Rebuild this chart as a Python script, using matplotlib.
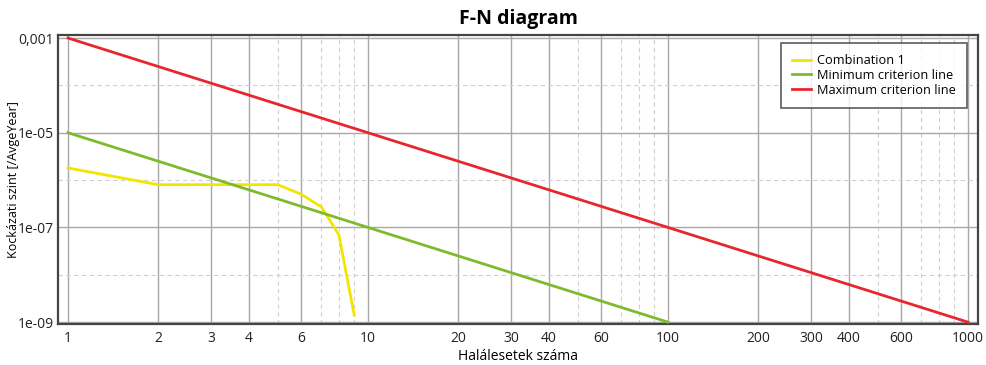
import matplotlib
matplotlib.use("Agg")
import matplotlib.pyplot as plt
from matplotlib.ticker import FixedLocator, FixedFormatter, NullFormatter

plt.rcParams['font.family'] = ['Open Sans', 'DejaVu Sans']

combo_x = [1, 2, 3, 4, 5, 6, 7, 8, 9]
combo_y = [1.8e-6, 8e-7, 8e-7, 8e-7, 8e-7, 5e-7, 2.7e-7, 7e-8, 1.4e-9]
min_x = [1, 100]
min_y = [1e-5, 1e-9]
max_x = [1, 1000]
max_y = [1e-3, 1e-9]

x_major = [1, 2, 3, 4, 6, 10, 20, 30, 40, 60, 100, 200, 300, 400, 600, 1000]
x_labels = ["1", "2", "3", "4", "6", "10", "20", "30", "40", "60", "100", "200", "300", "400", "600", "1000"]
x_minor = [5, 7, 8, 9, 50, 70, 80, 90, 500, 700, 800, 900]
y_major = [1e-9, 1e-7, 1e-5, 1e-3]
y_labels = ["1e-09", "1e-07", "1e-05", "0,001"]
y_minor = [1e-8, 1e-6, 1e-4]

fig = plt.figure(figsize=(9.86, 3.65), dpi=100)
ax = fig.add_axes([0.0588, 0.112, 0.933, 0.792])

ax.plot(combo_x, combo_y, color='#f2e600', lw=2, label='Combination 1', zorder=3)
ax.plot(min_x, min_y, color='#7fba2e', lw=2, label='Minimum criterion line', zorder=3)
ax.plot(max_x, max_y, color='#e8262e', lw=2, label='Maximum criterion line', zorder=3)

ax.set_xscale('log')
ax.set_yscale('log')
ax.set_xlim(1 * 10 ** (-10 / 300), 1000 * 10 ** (10 / 300))
ax.set_ylim(1e-9 * 10 ** (-2 / 47.5), 1e-3 * 10 ** (3 / 47.5))

ax.xaxis.set_major_locator(FixedLocator(x_major))
ax.xaxis.set_major_formatter(FixedFormatter(x_labels))
ax.xaxis.set_minor_locator(FixedLocator(x_minor))
ax.xaxis.set_minor_formatter(NullFormatter())
ax.yaxis.set_major_locator(FixedLocator(y_major))
ax.yaxis.set_major_formatter(FixedFormatter(y_labels))
ax.yaxis.set_minor_locator(FixedLocator(y_minor))
ax.yaxis.set_minor_formatter(NullFormatter())

ax.grid(True, which='major', color='#a8a8a8', lw=1, ls='-')
ax.grid(True, which='minor', color='#d0d0d0', lw=0.8, ls=(0, (4, 3)))
ax.tick_params(which='both', length=0, labelsize=10, colors='#222222')
ax.tick_params(axis='x', pad=5)
ax.tick_params(axis='y', pad=3)
for s in ax.spines.values():
    s.set_color('#444444')
    s.set_linewidth(1.6)

ax.set_title('F-N diagram', fontsize=14, fontweight='bold', pad=8)
ax.set_xlabel('Halálesetek száma', fontsize=10, labelpad=2)
ax.set_ylabel('Kockázati szint [/AvgeYear]', fontsize=9)
ax.yaxis.set_label_coords(-0.0415, 0.5)

leg = ax.legend(loc='upper right', bbox_to_anchor=(0.988, 0.972), borderaxespad=0,
                fontsize=9.2, frameon=True, fancybox=False, handlelength=1.5,
                borderpad=0.85, labelspacing=0.15, handletextpad=0.5)
leg.get_frame().set_edgecolor('#333333')
leg.get_frame().set_linewidth(1.2)

fig.savefig('out.png', dpi=100)
